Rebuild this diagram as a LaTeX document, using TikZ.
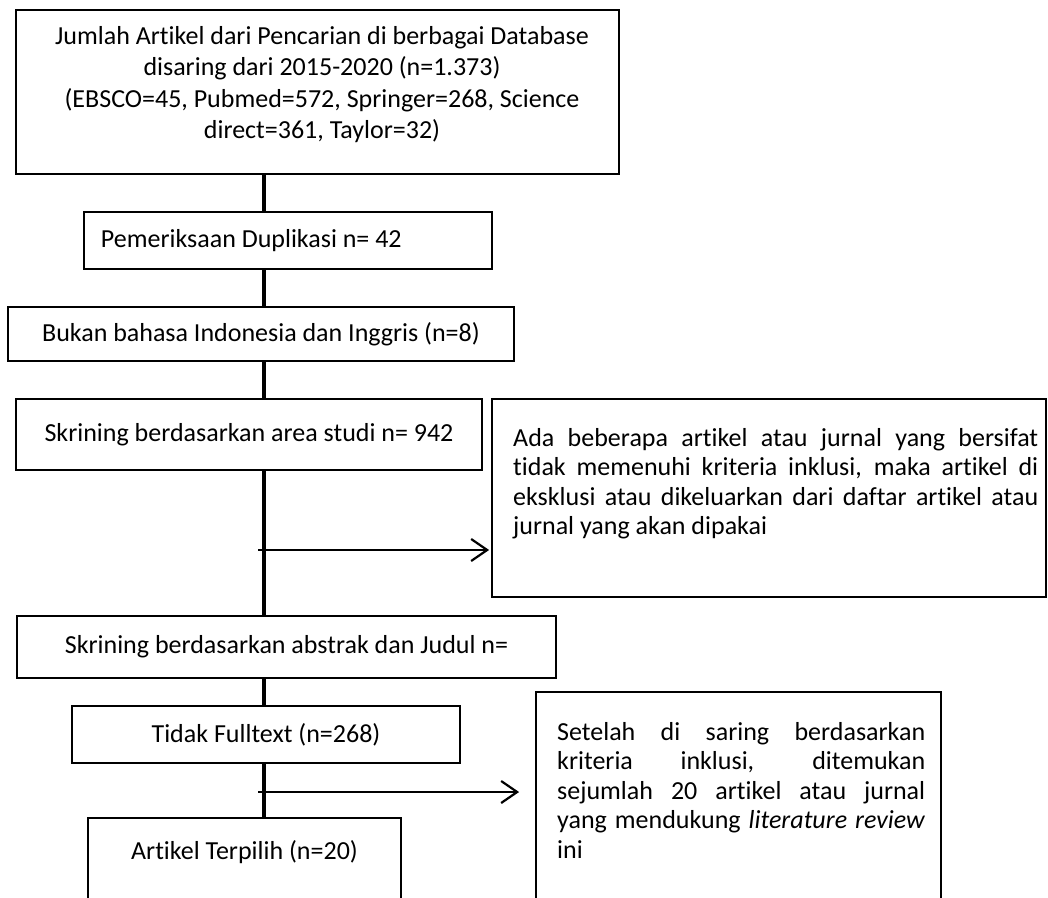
\documentclass[tikz,border=0pt]{standalone}
\usepackage{fontspec}
\setmainfont{Carlito}[RawFeature={-liga;-clig;-calt;-dlig}]
\usetikzlibrary{arrows.meta}
\begin{document}
\begin{tikzpicture}[x=1bp, y=-1bp,
    box/.style={draw, line width=1.8bp, inner sep=0pt, font=\fontsize{26bp}{31bp}\selectfont},
    txt/.style={inner sep=0pt, font=\fontsize{26bp}{29.5bp}\selectfont},
    spine/.style={line width=3.5bp},
    exitarrow/.style={line width=2.2bp, -{Straight Barb[length=16bp, width=22bp, line width=2.2bp]}}]
  \useasboundingbox (0,0) rectangle (1048,898);
  \coordinate (x) at (264,0);
  % left column
  \node[box, minimum width=603bp, minimum height=164bp] (src) at (317.5,92) {};
  \node[txt, align=center, anchor=north, font=\fontsize{26bp}{31.5bp}\selectfont] (srctxt) at (322,26)
    {Jumlah Artikel dari Pencarian di berbagai Database\\
     disaring dari 2015-2020 (n=1.373)\\
     (EBSCO=45, Pubmed=572, Springer=268, Science\\
     direct=361, Taylor=32)};
  \node[box, inner xsep=17bp, minimum height=57bp] (dup) at (288,240.5) {\makebox[374bp][l]{Pemeriksaan Duplikasi n= 42}};
  \node[box, minimum width=506bp, minimum height=54bp] (lang) at (261,334) {Bukan bahasa Indonesia dan Inggris (n=8)};
  \node[box, minimum width=466bp, minimum height=71bp] (area) at (249,434.5) {Skrining berdasarkan area studi n= 942};
  \node[box, minimum width=539bp, minimum height=62bp] (abs) at (286.5,647) {Skrining berdasarkan abstrak dan Judul n=};
  \node[box, minimum width=388bp, minimum height=57bp] (full) at (266,734.5) {Tidak Fulltext (n=268)};
  \node[box, minimum width=313bp, minimum height=172bp] (pick) at (244.5,904) {};
  \node[txt] (picktxt) at (244.5,852) {Artikel Terpilih (n=20)};
  % right column
  \node[box, minimum width=554bp, minimum height=198bp] (excl) at (769,498) {};
  \node[txt, text width=525bp, align=justify, anchor=north west] (excltxt) at (513,428)
    {Ada beberapa artikel atau jurnal yang bersifat\linebreak
     tidak memenuhi kriteria inklusi, maka artikel di\linebreak
     eksklusi atau dikeluarkan dari daftar artikel atau\linebreak
     jurnal yang akan dipakai};
  \node[box, minimum width=405bp, minimum height=298bp] (incl) at (738.5,841) {};
  \node[txt, text width=368bp, align=justify, anchor=north west] (incltxt) at (557,722)
    {Setelah di saring berdasarkan\linebreak
     kriteria inklusi, ditemukan\linebreak
     sejumlah 20 artikel atau jurnal\linebreak
     yang mendukung \textit{literature review}\linebreak
     ini};
  % connectors
  \draw[spine] (src.south -| x) -- (dup.north -| x);
  \draw[spine] (dup.south -| x) -- (lang.north -| x);
  \draw[spine] (lang.south -| x) -- (area.north -| x);
  \draw[spine] (area.south -| x) -- (abs.north -| x);
  \draw[spine] (abs.south -| x) -- (full.north -| x);
  \draw[spine] (full.south -| x) -- (pick.north -| x);
  \coordinate (o1) at (258,550);
  \draw[exitarrow, shorten >=2bp] (o1) -- (o1 -| excl.west);
  \coordinate (o2) at (258,792);
  \draw[exitarrow, shorten >=16bp] (o2) -- (o2 -| incl.west);
\end{tikzpicture}
\end{document}
